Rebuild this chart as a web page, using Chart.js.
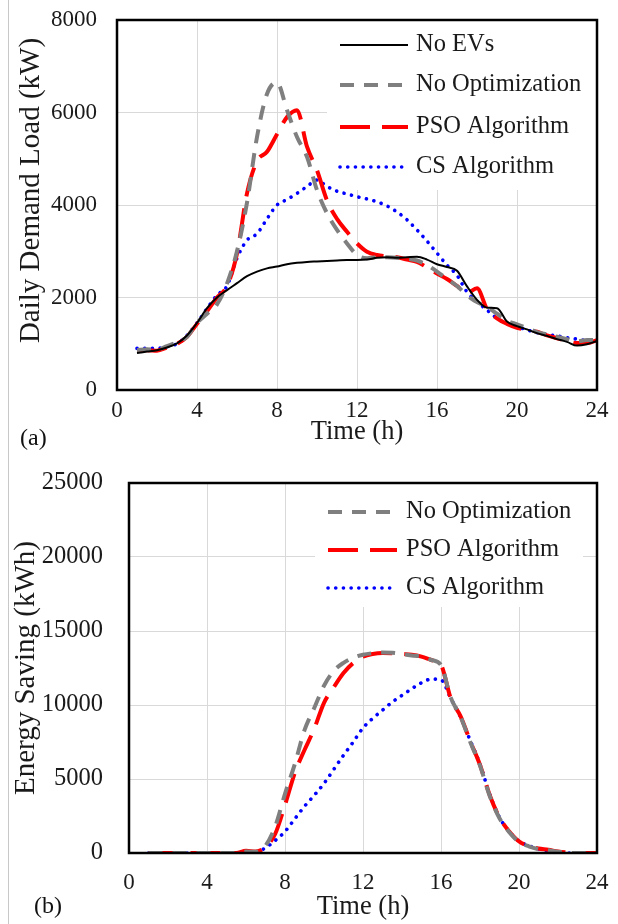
<!DOCTYPE html>
<html>
<head>
<meta charset="utf-8">
<script src="https://cdn.jsdelivr.net/npm/chart.js@4.4.1/dist/chart.umd.min.js"></script>
<style>
  html, body { margin: 0; padding: 0; background: #fff; }
  body { width: 618px; height: 924px; position: relative; overflow: hidden; font-family: "Liberation Serif", serif; }
  .box { position: absolute; left: 0; width: 618px; }
  #boxA { top: 0; height: 460px; }
  #boxB { top: 460px; height: 464px; }
  .tag { position: absolute; font-size: 24px; color: #111; line-height: 1; }
  #edge { position: absolute; left: 8px; top: 0; width: 1px; height: 924px; background: #c8c8c8; }
</style>
</head>
<body>
<div id="edge"></div>
<div class="box" id="boxA"><canvas id="chartA"></canvas></div>
<div class="box" id="boxB"><canvas id="chartB"></canvas></div>
<div class="tag" style="left:20px; top:425px;">(a)</div>
<div class="tag" style="left:34px; top:893px;">(b)</div>
<script>
/* 시간축 (h), 30분 간격 */
const hours = [1, 1.5, 2, 2.5, 3, 3.5, 4, 4.5, 5, 5.5, 6, 6.5, 7, 7.5, 8, 8.5, 9, 9.5, 10, 10.5, 11, 11.5, 12,
	12.5, 13, 13.5, 14, 14.5, 15, 15.5, 16, 16.5, 17, 17.5, 18, 18.5, 19, 19.5, 20, 20.5, 21, 21.5, 22, 22.5, 23, 23.5, 24]

/* (a) Daily Demand Load (kW) */
const loadNoEv = [800, 830, 860, 920, 1010, 1180, 1450, 1770, 2000, 2160, 2310, 2460, 2560, 2630, 2670, 2720, 2750, 2770, 2780, 2790, 2800, 2810, 2810,
	2820, 2860, 2870, 2860, 2870, 2880, 2820, 2720, 2660, 2580, 2240, 1950, 1780, 1770, 1480, 1380, 1310, 1230, 1170, 1100, 1040, 960, 990, 1060]
const loadNoOpt = [860, 880, 870, 950, 1030, 1150, 1450, 1650, 1850, 2300, 3000, 4050, 5470, 6400, 6650, 6050, 5470, 5040, 4320, 3820, 3460, 3170, 2920,
	2850, 2870, 2870, 2860, 2840, 2800, 2700, 2560, 2400, 2250, 2050, 1900, 1800, 1650, 1500, 1420, 1340, 1250, 1200, 1150, 1100, 1050, 1080, 1080]
const loadPso = [850, 860, 850, 920, 1000, 1150, 1430, 1700, 2000, 2250, 2950, 4250, 4950, 5150, 5530, 5900, 6050, 5260, 4750, 4100, 3700, 3420, 3170,
	2990, 2920, 2890, 2870, 2820, 2770, 2650, 2520, 2400, 2250, 2100, 2200, 1750, 1550, 1430, 1345, 1300, 1260, 1180, 1120, 1060, 1015, 1015, 1080]
const loadCs = [900, 900, 900, 940, 1000, 1180, 1450, 1760, 2050, 2250, 2850, 3240, 3380, 3700, 4000, 4120, 4250, 4400, 4540, 4400, 4300, 4240, 4180,
	4130, 4070, 3980, 3850, 3680, 3460, 3220, 2960, 2700, 2480, 2120, 1910, 1730, 1550, 1440, 1370, 1300, 1240, 1200, 1170, 1130, 1100, 1070, 1040]

/* (b) Energy Saving (kWh) */
const saveNoOpt = [0, 0, 0, 0, 0, 0, 0, 0, 0, 0, 100, 80, 500, 1800, 4000, 6000, 8300, 9800, 11300, 12300, 12850, 13200, 13400,
	13500, 13550, 13530, 13450, 13350, 13270, 13040, 12700, 10500, 9210, 7500, 5900, 3850, 2350, 1400, 750, 450, 260, 180, 80, 20, 0, 0, 0]
const savePso = [0, 0, 0, 0, 0, 0, 0, 0, 0, 0, 150, 100, 400, 1300, 3240, 5400, 6960, 8400, 10150, 11200, 12160, 12840, 13270,
	13450, 13510, 13500, 13450, 13400, 13270, 13040, 12700, 10450, 9250, 7550, 5950, 3900, 2400, 1450, 780, 480, 300, 220, 100, 30, 0, 0, 0]
const saveCs = [0, 0, 0, 0, 0, 0, 0, 0, 0, 0, 0, 60, 350, 850, 1450, 2300, 3150, 3900, 4700, 5650, 6600, 7500, 8450,
	9100, 9650, 10200, 10650, 11100, 11500, 11750, 11700, 10450, 9200, 7600, 6000, 3950, 2400, 1450, 800, 500, 280, 150, 60, 0, 0, 0, 0]

/* 축 눈금 */
const xTicks = [0, 4, 8, 12, 16, 20, 24]
const loadTicks = [0, 2000, 4000, 6000, 8000]
const saveTicks = [0, 5000, 10000, 15000, 20000, 25000]

const serif = '"Liberation Serif", "Times New Roman", serif'
const inkColor = '#1a1a1a'

function pts(values) {
	return values.map((v, i) => ({ x: hours[i], y: v }))
}

/* 라인 스타일 */
function lineNoEv(values) {
	return { label: 'No EVs', data: pts(values), borderColor: '#000000', borderWidth: 2, borderDash: [] }
}
function lineNoOpt(values) {
	return { label: 'No Optimization', data: pts(values), borderColor: '#7f7f7f', borderWidth: 4, borderDash: [14, 10] }
}
function linePso(values) {
	return { label: 'PSO Algorithm', data: pts(values), borderColor: '#ff0000', borderWidth: 4, borderDash: [30, 12] }
}
function lineCs(values) {
	return { label: 'CS Algorithm', data: pts(values), borderColor: '#0000ff', borderWidth: 3.6, borderDash: [0.1, 7.6], borderCapStyle: 'round' }
}

/* 범례 + 테두리 플러그인 */
const framePlugin = {
	id: 'frame',
	beforeDatasetsDraw(chart, args, opts) {
		const ctx = chart.ctx
		const b = opts.box
		ctx.save()
		ctx.fillStyle = '#ffffff'
		ctx.fillRect(b[0], b[1], b[2] - b[0], b[3] - b[1])
		ctx.restore()
	},
	afterDraw(chart, args, opts) {
		const ctx = chart.ctx
		const a = chart.chartArea
		ctx.save()
		ctx.font = '24.5px ' + serif
		ctx.textBaseline = 'middle'
		ctx.textAlign = 'left'
		ctx.fillStyle = inkColor
		chart.data.datasets.forEach((ds, i) => {
			const y = opts.rows[i]
			ctx.beginPath()
			ctx.strokeStyle = ds.borderColor
			ctx.lineWidth = ds.borderWidth
			ctx.setLineDash(ds.borderDash || [])
			ctx.lineCap = ds.borderCapStyle || 'butt'
			ctx.moveTo(opts.lineX[0], y)
			ctx.lineTo(opts.lineX[1], y)
			ctx.stroke()
			ctx.fillText(ds.label, opts.textX, y)
		})
		ctx.setLineDash([])
		ctx.lineCap = 'butt'
		ctx.lineWidth = 2.5
		ctx.strokeStyle = '#000000'
		ctx.strokeRect(a.left, a.top, a.width, a.height)
		ctx.restore()
	}
}

function makeChart(id, datasets, cfg) {
	return new Chart(document.getElementById(id), {
		type: 'line',
		data: { datasets: datasets },
		plugins: [framePlugin],
		options: {
			responsive: true,
			maintainAspectRatio: false,
			animation: false,
			layout: { padding: { left: 0, top: cfg.area.top, right: 618 - cfg.area.right, bottom: 0 } },
			elements: {
				point: { radius: 0 },
				line: { cubicInterpolationMode: 'monotone', borderJoinStyle: 'round' }
			},
			plugins: {
				legend: { display: false },
				tooltip: { enabled: false },
				frame: cfg.legend
			},
			scales: {
				x: {
					type: 'linear', min: 0, max: 24,
					afterBuildTicks: s => { s.ticks = xTicks.map(v => ({ value: v })) },
					afterFit: s => { s.height = cfg.xHeight; s.paddingLeft = 0; s.paddingRight = 0 },
					grid: { color: '#d9d9d9', lineWidth: 1, drawTicks: false },
					border: { display: false },
					ticks: { color: inkColor, font: { family: serif, size: 23 }, padding: cfg.xTickPad, maxRotation: 0, callback: v => String(v) },
					title: { display: true, text: 'Time (h)', color: inkColor, font: { family: serif, size: 26.5, lineHeight: 1.2 }, padding: { top: 0, bottom: cfg.xTitlePad } }
				},
				y: {
					type: 'linear', min: 0, max: cfg.yMax,
					afterBuildTicks: s => { s.ticks = cfg.yTicks.map(v => ({ value: v })) },
					afterFit: s => { s.width = cfg.area.left; s.paddingTop = 0; s.paddingBottom = 0 },
					grid: { color: '#d9d9d9', lineWidth: 1, drawTicks: false },
					border: { display: false },
					ticks: { color: inkColor, font: { family: serif, size: cfg.yTickSize }, padding: cfg.yTickPad, callback: v => String(v) },
					title: { display: true, text: cfg.yTitle, color: inkColor, font: { family: serif, size: 29, lineHeight: 1.2 }, padding: { top: cfg.yTitlePad, bottom: 0 } }
				}
			}
		}
	})
}

const areaA = { left: 117, top: 20, right: 597 }
const areaB = { left: 129, top: 23, right: 597 }

makeChart('chartA', [lineNoEv(loadNoEv), lineNoOpt(loadNoOpt), linePso(loadPso), lineCs(loadCs)], {
	area: areaA, xHeight: 70, yMax: 8000, yTicks: loadTicks, yTickSize: 23,
	xTickPad: 7, xTitlePad: 12, yTickPad: 20, yTitlePad: 14,
	yTitle: '\u2002\u2002Daily Demand Load (kW)',
	legend: { box: [327, 21, 596, 190], rows: [45, 85, 127, 167], lineX: [340, 408], textX: 416 }
})

makeChart('chartB', [lineNoOpt(saveNoOpt), linePso(savePso), lineCs(saveCs)], {
	area: areaB, xHeight: 71, yMax: 25000, yTicks: saveTicks, yTickSize: 24.5,
	xTickPad: 16, xTitlePad: 1, yTickPad: 26, yTitlePad: 9,
	yTitle: 'Energy Saving (kWh)',
	legend: { box: [315, 24, 583, 147], rows: [52, 90, 128], lineX: [328, 397], textX: 406 }
})
</script>
</body>
</html>
